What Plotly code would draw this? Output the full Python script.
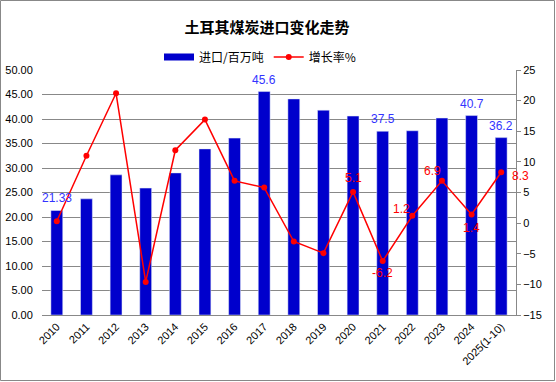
import plotly.graph_objects as go

years = ["2010", "2011", "2012", "2013", "2014", "2015", "2016", "2017",
         "2018", "2019", "2020", "2021", "2022", "2023", "2024", "2025(1-10)"]
imports = [21.33, 23.7, 28.6, 25.9, 29.0, 33.9, 36.1, 45.6,
           44.1, 41.8, 40.6, 37.5, 37.6, 40.2, 40.7, 36.2]
growth = [0.3, 11.0, 21.2, -9.6, 11.9, 16.9, 6.9, 5.8,
          -3.0, -4.9, 5.1, -6.2, 1.2, 6.9, 1.4, 8.3]

bar_labels = {"2010": "21.33", "2017": "45.6", "2021": "37.5", "2024": "40.7", "2025(1-10)": "36.2"}
line_labels = {"2020": ("5.1", 0, -14), "2021": ("-6.2", 0, 12), "2022": ("1.2", -11, -7),
               "2023": ("6.9", -9, -10), "2024": ("1.4", 0, 13), "2025(1-10)": ("8.3", 19, 4)}

W, H = 556, 382
ml, mr, mt, mb = 42, 40, 70, 67
pw, ph = W - ml - mr, H - mt - mb
tick_font = dict(size=11, family="Liberation Sans", color="black")

fig = go.Figure()
fig.add_trace(go.Bar(x=years, y=imports, name="进口/百万吨", marker_color="#0000CC",
                     width=0.4, showlegend=False))
# legend entry drawn as a wide blue bar-like swatch
fig.add_trace(go.Scatter(x=[None], y=[None], name="进口/百万吨", mode="lines",
                         line=dict(color="#0000CC", width=7)))
fig.add_trace(go.Scatter(x=years, y=growth, name="增长率%", mode="lines+markers",
                         line=dict(color="#FF0000", width=1.5),
                         marker=dict(color="#FF0000", size=6), yaxis="y2"))

ann = []
for i, y in enumerate(years):
    if y in bar_labels:
        ann.append(dict(x=i, y=imports[i], xref="x", yref="y", text=bar_labels[y],
                        showarrow=False, yshift=12,
                        font=dict(color="#3333FF", size=12, family="Liberation Sans")))
    if y in line_labels:
        t, dx, dy = line_labels[y]
        ann.append(dict(x=i, y=growth[i], xref="x", yref="y2", text=t, showarrow=False,
                        xshift=dx, yshift=-dy,
                        font=dict(color="#FF0000", size=12, family="Liberation Sans")))

fig.update_layout(
    width=W, height=H,
    margin=dict(l=ml, r=mr, t=mt, b=mb, autoexpand=False),
    paper_bgcolor="white", plot_bgcolor="white",
    title=dict(text="<b>土耳其煤炭进口变化走势</b>", x=267 / W, xanchor="center", y=1 - 28 / H,
               yanchor="middle", font=dict(size=15, family="Noto Sans CJK SC", color="black")),
    legend=dict(orientation="h", x=(260 - ml) / pw, xanchor="center", y=1 + 13 / ph,
                yanchor="middle", itemwidth=30,
                font=dict(size=12, family="Noto Sans CJK SC", color="black")),
    showlegend=True,
    xaxis=dict(type="category", categoryorder="array", categoryarray=years,
               range=[-0.5, len(years) - 0.5], tickangle=-45, tickfont=tick_font,
               showline=True, linecolor="#888888", ticks="", showgrid=False,
               automargin=False),
    yaxis=dict(range=[0, 50], dtick=5, tickformat=".2f", showgrid=True, gridcolor="#888888",
               gridwidth=1, zeroline=False, showline=False, tickfont=tick_font,
               ticks="outside", ticklen=6, tickcolor="rgba(0,0,0,0)",
               automargin=False),
    yaxis2=dict(range=[-15, 25], dtick=5, overlaying="y", side="right", showgrid=False,
                zeroline=False, showline=True, linecolor="#888888", ticks="outside",
                ticklen=4, tickcolor="#888888", tickfont=tick_font, automargin=False),
    annotations=ann,
    shapes=[dict(type="rect", xref="paper", yref="paper",
                 x0=(-ml + 0.5) / pw, x1=1 + (mr - 1.5) / pw,
                 y0=(-mb + 1.5) / ph, y1=1 + (mt - 0.5) / ph,
                 line=dict(color="#888888", width=1))],
)

fig.write_html("out.html", config={"displayModeBar": False},
               post_script="document.body.style.margin='0';")
